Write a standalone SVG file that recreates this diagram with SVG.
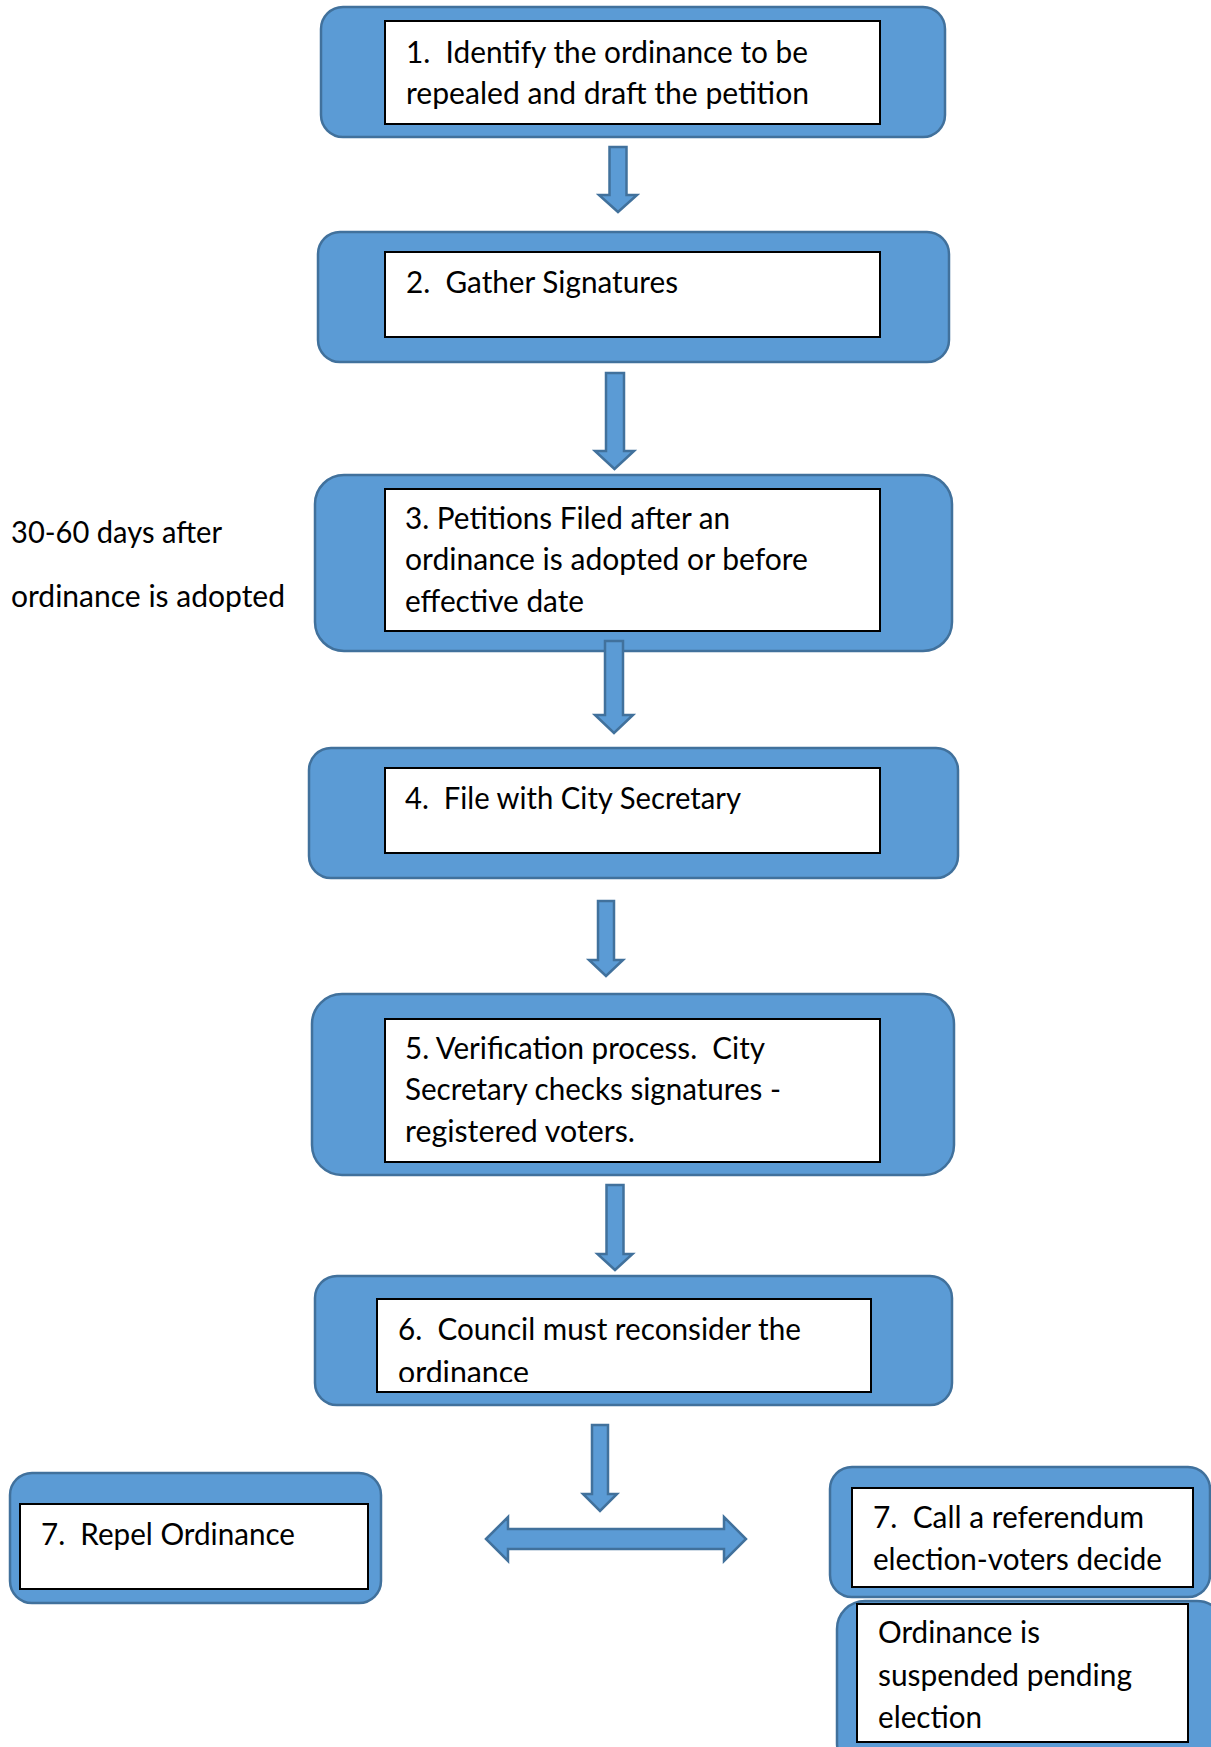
<svg xmlns="http://www.w3.org/2000/svg" width="1211" height="1747" viewBox="0 0 1211 1747">
<style>
.outer{fill:#5B9BD5;stroke:#41719C;stroke-width:2.5}
.inner{fill:#ffffff;stroke:#000000;stroke-width:2}
.arrow{fill:#5B9BD5;stroke:#41719C;stroke-width:2.5;stroke-linejoin:miter}
text{font-family:Lato,"Open Sans","Liberation Sans",sans-serif;font-size:30px;fill:#000000;white-space:pre}
</style>
<defs>
<clipPath id="clip6"><rect x="377" y="1299" width="494" height="83"/></clipPath>
</defs>
<rect width="1211" height="1747" fill="#ffffff"/>

<g id="node1">
<rect class="outer" x="321" y="7" width="624" height="130" rx="22" ry="22"/>
<rect class="inner" x="385" y="21" width="495" height="103"/>
<text x="406" y="63" textLength="402" lengthAdjust="spacingAndGlyphs">1.  Identify the ordinance to be</text>
<text x="406" y="104" textLength="403" lengthAdjust="spacingAndGlyphs">repealed and draft the petition</text>
</g>

<g id="node2">
<rect class="outer" x="318" y="232" width="631" height="130" rx="22" ry="22"/>
<rect class="inner" x="385" y="252" width="495" height="85"/>
<text x="406" y="293" textLength="272" lengthAdjust="spacingAndGlyphs">2.  Gather Signatures</text>
</g>

<g id="note3">
<text x="11" y="543" textLength="211" lengthAdjust="spacingAndGlyphs">30-60 days after</text>
<text x="11" y="607" textLength="274" lengthAdjust="spacingAndGlyphs">ordinance is adopted</text>
</g>

<g id="node3">
<rect class="outer" x="315" y="475" width="637" height="176" rx="29" ry="29"/>
<rect class="inner" x="385" y="489" width="495" height="142"/>
<text x="405" y="529" textLength="325" lengthAdjust="spacingAndGlyphs">3. Petitions Filed after an</text>
<text x="405" y="570" textLength="403" lengthAdjust="spacingAndGlyphs">ordinance is adopted or before</text>
<text x="405" y="612" textLength="179" lengthAdjust="spacingAndGlyphs">effective date</text>
</g>

<g id="node4">
<rect class="outer" x="309" y="748" width="649" height="130" rx="22" ry="22"/>
<rect class="inner" x="385" y="768" width="495" height="85"/>
<text x="405" y="809" textLength="336" lengthAdjust="spacingAndGlyphs">4.  File with City Secretary</text>
</g>

<g id="node5">
<rect class="outer" x="312" y="994" width="642" height="181" rx="30" ry="30"/>
<rect class="inner" x="385" y="1019" width="495" height="143"/>
<text x="405" y="1059" textLength="360" lengthAdjust="spacingAndGlyphs">5. Verification process.  City</text>
<text x="405" y="1100" textLength="376" lengthAdjust="spacingAndGlyphs">Secretary checks signatures -</text>
<text x="405" y="1142" textLength="230" lengthAdjust="spacingAndGlyphs">registered voters.</text>
</g>

<g id="node6">
<rect class="outer" x="315" y="1276" width="637" height="129" rx="22" ry="22"/>
<rect class="inner" x="377" y="1299" width="494" height="93"/>
<g clip-path="url(#clip6)">
<text x="398" y="1340" textLength="403" lengthAdjust="spacingAndGlyphs">6.  Council must reconsider the</text>
<text x="398" y="1383" textLength="131" lengthAdjust="spacingAndGlyphs">ordinance</text>
</g>
</g>

<g id="node7a">
<rect class="outer" x="10" y="1473" width="371" height="130" rx="22" ry="22"/>
<rect class="inner" x="20" y="1504" width="348" height="85"/>
<text x="41" y="1545" textLength="254" lengthAdjust="spacingAndGlyphs">7.  Repel Ordinance</text>
</g>

<g id="node7b">
<rect class="outer" x="830" y="1467" width="380" height="130" rx="22" ry="22"/>
<rect class="inner" x="852" y="1488" width="341" height="99"/>
<text x="873" y="1528" textLength="271" lengthAdjust="spacingAndGlyphs">7.  Call a referendum</text>
<text x="873" y="1570" textLength="289" lengthAdjust="spacingAndGlyphs">election-voters decide</text>
</g>

<g id="node8">
<rect class="outer" x="837" y="1601" width="388" height="170" rx="28" ry="28"/>
<rect class="inner" x="857" y="1604" width="331" height="138"/>
<text x="878" y="1643" textLength="162" lengthAdjust="spacingAndGlyphs">Ordinance is</text>
<text x="878" y="1686" textLength="254" lengthAdjust="spacingAndGlyphs">suspended pending</text>
<text x="878" y="1728" textLength="104" lengthAdjust="spacingAndGlyphs">election</text>
</g>

<g id="connectors">
<polygon class="arrow" points="609.5,147 626.5,147 626.5,195 637,195 618,212 599,195 609.5,195"/>
<polygon class="arrow" points="606,373 624,373 624,451 634,451 614.5,469 595,451 606,451"/>
<polygon class="arrow" points="605,641 623,641 623,715 633,715 614,733 595,715 605,715"/>
<polygon class="arrow" points="598,901 614,901 614,960 623,960 606,976 589,960 598,960"/>
<polygon class="arrow" points="606.5,1185 623.5,1185 623.5,1254 632.5,1254 615,1270 597.5,1254 606.5,1254"/>
<polygon class="arrow" points="592,1425 608,1425 608,1494 617,1494 600,1511 583,1494 592,1494"/>
<polygon class="arrow" points="486,1539 508,1517 508,1529 724,1529 724,1517 746,1539 724,1561 724,1549 508,1549 508,1561"/>
</g>
</svg>
